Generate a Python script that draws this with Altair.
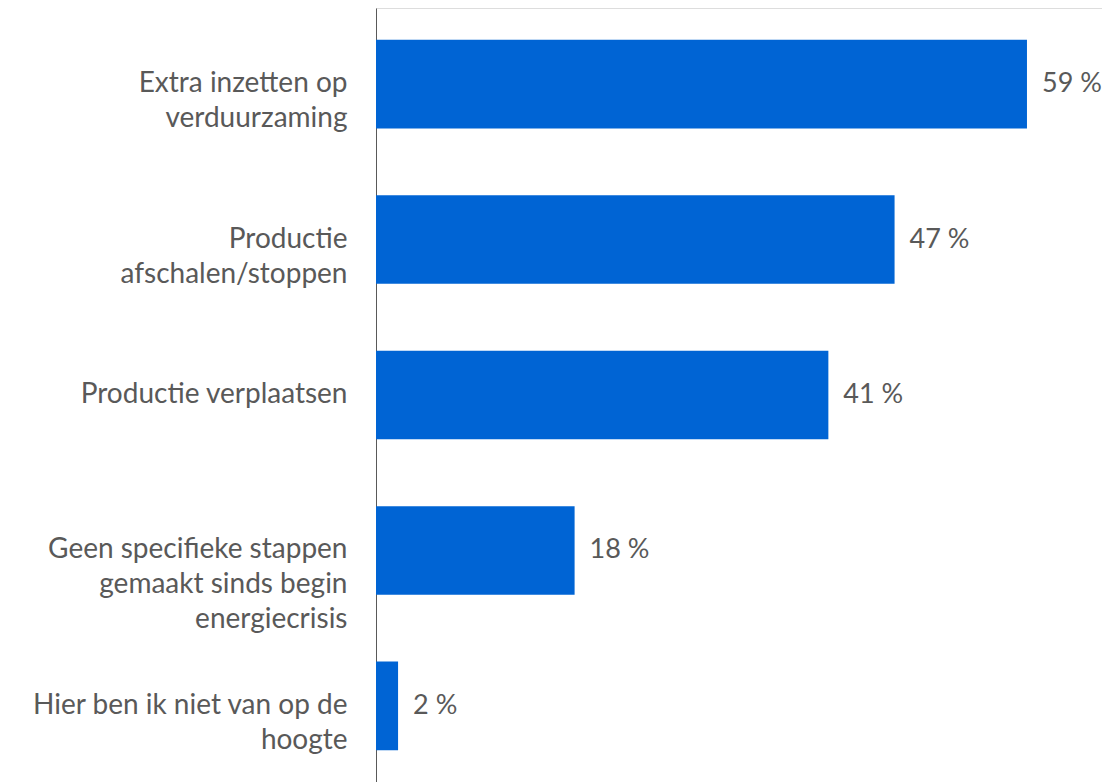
import altair as alt
import pandas as pd

categories = [
    "Extra inzetten op|verduurzaming",
    "Productie|afschalen/stoppen",
    "Productie verplaatsen",
    "Geen specifieke stappen|gemaakt sinds begin|energiecrisis",
    "Hier ben ik niet van op de|hoogte",
]
values = [59, 47, 41, 18, 2]
value_labels = ["59 %", "47 %", "41 %", "18 %", "2 %"]

df = pd.DataFrame({"cat": categories, "val": values, "lbl": value_labels})

FONT = "Lato"
TEXT_COLOR = "#595959"

y_enc = alt.Y(
    "cat:N",
    sort=categories,
    title=None,
    scale=alt.Scale(paddingInner=0.43, paddingOuter=0.205),
    axis=alt.Axis(
        labelExpr="split(datum.label, '|')",
        labelFont=FONT,
        labelFontSize=28,
        labelColor=TEXT_COLOR,
        labelLineHeight=35,
        labelPadding=29,
        labelLimit=400,
        ticks=False,
        domainColor="#595959",
        domainWidth=1,
        minExtent=368,
        maxExtent=368,
        grid=False,
    ),
)

x_enc = alt.X(
    "val:Q",
    title=None,
    scale=alt.Scale(domain=[0, 65.8], nice=False),
    axis=None,
)

bars = alt.Chart(df).mark_bar(color="#0064D4").encode(y=y_enc, x=x_enc)

text = alt.Chart(df).mark_text(
    align="left", baseline="middle", dx=15, font=FONT, fontSize=27, color=TEXT_COLOR
).encode(y=alt.Y("cat:N", sort=categories), x="val:Q", text="lbl:N")

chart = (
    alt.layer(bars, text)
    .properties(width=726, height=774, padding=0)
    .configure_view(stroke=None)
    .configure(background="white")
)

chart.save("out.html", embed_options={"renderer": "svg", "actions": False})
